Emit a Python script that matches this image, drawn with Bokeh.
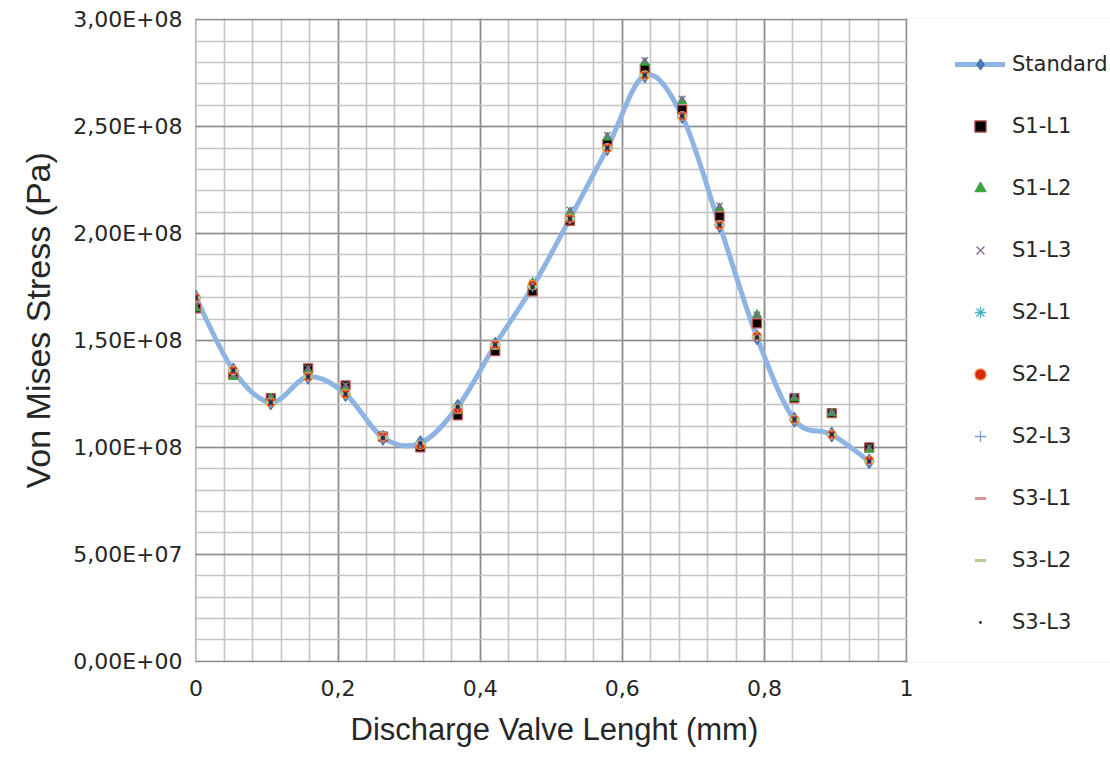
import numpy as np
from bokeh.plotting import figure
from bokeh.models import Range1d, FixedTicker, Legend, LegendItem, BoxAnnotation, Title
from bokeh.embed import file_html
from bokeh.resources import INLINE

# ---------------- data ----------------
x_pos = [0.0, 0.0526, 0.1053, 0.1579, 0.2105, 0.2632, 0.3158, 0.3684, 0.4211, 0.4737,
         0.5263, 0.5789, 0.6316, 0.6842, 0.7368, 0.7895, 0.8421, 0.8947, 0.9474]

standard = [1.70e8, 1.36e8, 1.21e8, 1.33e8, 1.25e8, 1.045e8, 1.02e8, 1.19e8, 1.48e8, 1.75e8,
            2.07e8, 2.40e8, 2.74e8, 2.55e8, 2.04e8, 1.515e8, 1.13e8, 1.06e8, 0.935e8]
s1_l1 = [1.65e8, 1.34e8, 1.23e8, 1.37e8, 1.29e8, 1.05e8, 1.00e8, 1.15e8, 1.45e8, 1.73e8,
         2.06e8, 2.42e8, 2.77e8, 2.58e8, 2.08e8, 1.58e8, 1.23e8, 1.16e8, 1.00e8]
s1_l2 = [1.65e8, 1.33e8, 1.23e8, 1.36e8, 1.28e8, 1.05e8, 1.01e8, 1.17e8, 1.47e8, 1.77e8,
         2.10e8, 2.45e8, 2.80e8, 2.62e8, 2.12e8, 1.62e8, 1.23e8, 1.16e8, 0.99e8]
s1_l3 = [1.66e8, 1.34e8, 1.23e8, 1.37e8, 1.29e8, 1.06e8, 1.01e8, 1.17e8, 1.48e8, 1.77e8,
         2.11e8, 2.46e8, 2.81e8, 2.63e8, 2.13e8, 1.62e8, 1.24e8, 1.16e8, 1.00e8]
s2_l1 = [1.70e8, 1.36e8, 1.21e8, 1.33e8, 1.25e8, 1.05e8, 1.02e8, 1.19e8, 1.48e8, 1.75e8,
         2.07e8, 2.40e8, 2.74e8, 2.55e8, 2.04e8, 1.52e8, 1.13e8, 1.06e8, 0.935e8]
s2_l2 = [1.70e8, 1.36e8, 1.21e8, 1.33e8, 1.25e8, 1.05e8, 1.01e8, 1.18e8, 1.48e8, 1.76e8,
         2.07e8, 2.40e8, 2.74e8, 2.55e8, 2.04e8, 1.52e8, 1.13e8, 1.06e8, 0.94e8]
s2_l3 = [1.70e8, 1.36e8, 1.21e8, 1.33e8, 1.25e8, 1.045e8, 1.02e8, 1.19e8, 1.48e8, 1.75e8,
         2.07e8, 2.40e8, 2.74e8, 2.55e8, 2.04e8, 1.515e8, 1.13e8, 1.06e8, 0.935e8]
s3_l1 = [1.70e8, 1.36e8, 1.21e8, 1.33e8, 1.25e8, 1.05e8, 1.02e8, 1.19e8, 1.48e8, 1.75e8,
         2.07e8, 2.40e8, 2.74e8, 2.55e8, 2.04e8, 1.52e8, 1.13e8, 1.06e8, 0.935e8]
s3_l2 = [1.70e8, 1.36e8, 1.21e8, 1.33e8, 1.25e8, 1.045e8, 1.02e8, 1.19e8, 1.48e8, 1.75e8,
         2.07e8, 2.40e8, 2.74e8, 2.55e8, 2.04e8, 1.515e8, 1.13e8, 1.06e8, 0.935e8]
s3_l3 = [1.70e8, 1.36e8, 1.21e8, 1.33e8, 1.25e8, 1.045e8, 1.02e8, 1.19e8, 1.48e8, 1.75e8,
         2.07e8, 2.40e8, 2.74e8, 2.55e8, 2.04e8, 1.515e8, 1.13e8, 1.06e8, 0.935e8]

y_ticks = [0, 5e7, 1e8, 1.5e8, 2e8, 2.5e8, 3e8]
y_labels = ["0,00E+00", "5,00E+07", "1,00E+08", "1,50E+08", "2,00E+08", "2,50E+08", "3,00E+08"]
x_ticks = [0, 0.2, 0.4, 0.6, 0.8, 1.0]
x_labels = ["0", "0,2", "0,4", "0,6", "0,8", "1"]

x_title = "Discharge Valve Lenght (mm)"
y_title = "Von Mises Stress (Pa)"

X_MAX = 1.0
Y_MAX = 3e8
# the frame runs on to the right edge of the canvas so the legend can sit inside it;
# the part beyond x = 1 is blanked out below
X_VIEW_END = 1.0 + 204.0 / 711.0
Y_PAD = 6e5

# ---------------- figure ----------------
p = figure(width=1110, height=760,
           x_range=Range1d(-0.0006, X_VIEW_END), y_range=Range1d(-Y_PAD, Y_MAX + Y_PAD),
           output_backend="svg", toolbar_location=None,
           min_border_left=195, min_border_right=0, min_border_top=18, min_border_bottom=98)
p.background_fill_color = "white"
p.border_fill_color = "white"
p.outline_line_color = None

x_minor = [round(v, 2) for v in np.arange(0, 1.0001, 0.04)]
y_minor = [v for v in np.arange(0, 3e8 + 1, 1e7)]
p.xaxis.ticker = FixedTicker(ticks=x_ticks, minor_ticks=x_minor)
p.yaxis.ticker = FixedTicker(ticks=y_ticks, minor_ticks=y_minor)
p.xaxis.major_label_overrides = {t: l for t, l in zip(x_ticks, x_labels)}
p.yaxis.major_label_overrides = {t: l for t, l in zip(y_ticks, y_labels)}
p.xaxis.bounds = (0, X_MAX)
p.yaxis.bounds = (0, Y_MAX)

for ax in (p.xaxis, p.yaxis):
    ax.axis_line_color = None
    ax.major_tick_line_color = None
    ax.minor_tick_line_color = None
    ax.major_tick_out = 0
    ax.minor_tick_out = 0
    ax.major_label_text_font = "DejaVu Sans"
    ax.major_label_text_font_size = "22px"
    ax.major_label_text_color = "#262626"
p.xaxis.major_label_standoff = 17
p.yaxis.major_label_standoff = 13

# axis titles (as side titles so they can be placed like the original)
p.add_layout(Title(text=x_title, align="left", offset=155, standoff=22,
                   text_font="Liberation Sans", text_font_size="31px",
                   text_font_style="normal", text_color="#262626"), "below")
p.add_layout(Title(text=y_title, align="left", offset=174, standoff=27,
                   text_font="Liberation Sans", text_font_size="34px",
                   text_font_style="normal", text_color="#262626"), "left")

p.xgrid.bounds = (0, X_MAX)
p.ygrid.bounds = (0, Y_MAX)
for g in (p.xgrid, p.ygrid):
    g.grid_line_color = "#8C8C8C"
    g.grid_line_width = 1.6
    g.minor_grid_line_color = "#C4C4C4"
    g.minor_grid_line_width = 1.6

# blank the area to the right of the plot area (where the legend sits)
p.add_layout(BoxAnnotation(left=X_MAX + 0.0012, right=X_VIEW_END + 0.1,
                           bottom=-0.2 * Y_MAX, top=1.2 * Y_MAX,
                           fill_color="white", fill_alpha=1.0,
                           line_color=None, level="underlay"))

# smooth (Excel-like) line through the standard series
xs = np.array(x_pos)
ys = np.array(standard)
xp = np.concatenate([[xs[0]], xs, [xs[-1]]])
yp = np.concatenate([[ys[0]], ys, [ys[-1]]])
x0 = xp[1:-2]; x1 = xp[2:-1]
y0 = yp[1:-2]; y1 = yp[2:-1]
cx0 = xp[1:-2] + (xp[2:-1] - xp[0:-3]) / 6.0
cy0 = yp[1:-2] + (yp[2:-1] - yp[0:-3]) / 6.0
cx1 = xp[2:-1] - (xp[3:] - xp[1:-2]) / 6.0
cy1 = yp[2:-1] - (yp[3:] - yp[1:-2]) / 6.0
bez = p.bezier(x0=x0, y0=y0, x1=x1, y1=y1, cx0=cx0, cy0=cy0, cx1=cx1, cy1=cy1,
               line_color="#8DB4E3", line_width=5, line_cap="round")
std_m = p.scatter(x_pos, standard, marker="diamond", size=15, fill_color="#4A7EBB",
                  line_color="#3B6AA0", line_width=1)

r1 = p.scatter(x_pos, s1_l1, marker="square", size=9, fill_color="black",
               line_color="#C0504D", line_width=1.3)
r2 = p.scatter(x_pos, s1_l2, marker="triangle", size=9, fill_color="#3AA53A",
               line_color="#3AA53A", line_width=1)
r3 = p.scatter(x_pos, s1_l3, marker="x", size=9, line_color="#8064A2", line_width=1.3)
r4 = p.scatter(x_pos, s2_l1, marker="asterisk", size=9, line_color="#4BACC6", line_width=1.3)
r5 = p.scatter(x_pos, s2_l2, marker="circle", size=9, fill_color="#D42A0A",
               line_color="#F79646", line_width=1.2)
r6 = p.scatter(x_pos, s2_l3, marker="cross", size=10, line_color="#7F9FCF", line_width=1.3)
r7 = p.scatter(x_pos, s3_l1, marker="dash", size=7, line_color="#D99694", line_width=3)
r8 = p.scatter(x_pos, s3_l2, marker="dash", size=10, line_color="#B5CE8C", line_width=3)
r9 = p.scatter(x_pos, s3_l3, marker="dot", size=18, fill_color="#2A2A50",
               line_color="#2A2A50", line_width=2)

names = ["Standard", "S1-L1", "S1-L2", "S1-L3", "S2-L1", "S2-L2", "S2-L3", "S3-L1", "S3-L2", "S3-L3"]
rends = [[bez, std_m], [r1], [r2], [r3], [r4], [r5], [r6], [r7], [r8], [r9]]
# location = bottom-left corner of the legend, in px from the plot frame's bottom-left
legend = Legend(items=[LegendItem(label=n, renderers=r) for n, r in zip(names, rends)],
                location=(760, 26), orientation="vertical",
                glyph_width=50, glyph_height=28, label_height=28, spacing=34,
                label_standoff=7, padding=0, margin=0,
                border_line_color=None, background_fill_alpha=0,
                label_text_font="DejaVu Sans", label_text_font_size="21px",
                label_text_color="#262626")
p.add_layout(legend, "center")

open("out.html", "w").write(file_html(p, INLINE))
